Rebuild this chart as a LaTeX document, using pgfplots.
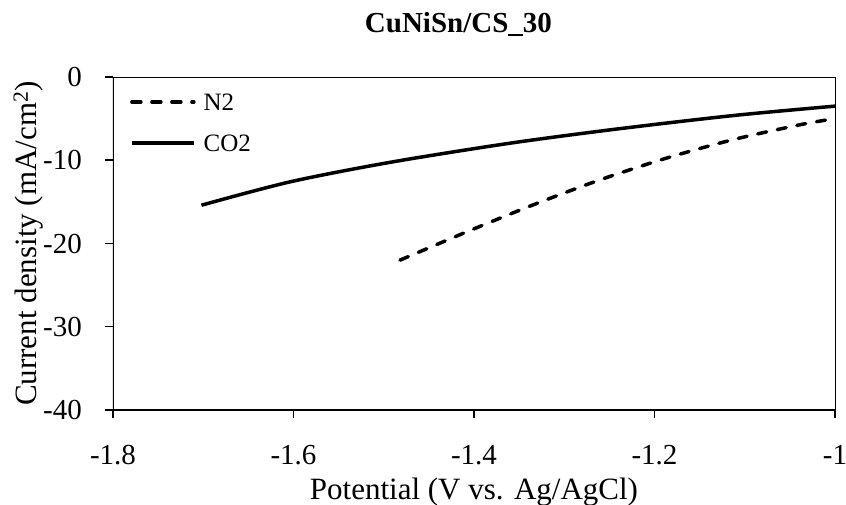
\documentclass[border=0pt]{standalone}
\usepackage{pgfplots}
\pgfplotsset{compat=1.18}
\usepackage{fontspec}
\setmainfont{Liberation Serif}
\begin{document}
\begin{tikzpicture}
\useasboundingbox (-113pt,-95pt) rectangle (733pt,410pt);
\begin{axis}[
  at={(0pt,0pt)}, anchor=south west,
  scale only axis, width=722pt, height=333pt,
  xmin=-1.8, xmax=-1, ymin=-40, ymax=0,
  enlargelimits=false,
  xtick={-1.8,-1.6,-1.4,-1.2,-1},
  xticklabels={-1.8,-1.6,-1.4,-1.2,-1},
  ytick={-40,-30,-20,-10,0},
  yticklabels={-40,-30,-20,-10,0},
  tick pos=left, tick align=outside,
  major tick length=8pt,
  every tick/.style={black, line width=1.5pt},
  axis line style={black, line width=0.9pt},
  tick label style={font=\fontsize{29}{34}\selectfont, inner sep=0pt},
  xticklabel style={anchor=base, yshift=-46.7pt},
  yticklabel style={anchor=east, xshift=-23pt},
  xlabel={Potential (V vs. Ag/AgCl)},
  ylabel={Current density (mA/cm\textsuperscript{2})},
  label style={font=\fontsize{31}{36}\selectfont, inner sep=0pt},
  xlabel style={at={(axis description cs:0.5,-0.2673)}, anchor=base},
  ylabel style={at={(axis description cs:-0.1053,0.5)}, anchor=base, rotate=0},
  title={CuNiSn/CS\_30},
  title style={at={(axis description cs:0.4785,1.116)}, anchor=base, font=\bfseries\fontsize{29}{34}\selectfont, inner sep=0pt},
  legend cell align=left,
  legend style={at={(axis description cs:0.0235,0.9505)}, anchor=north west,
    draw=none, fill=none, inner sep=0pt, row sep=24pt, column sep=8pt,
    font=\fontsize{25}{30}\selectfont,
    nodes={inner sep=0pt, text height=17pt, text depth=0pt}},
  legend image code/.code={\draw[#1] (0pt,0pt) -- (62pt,0pt);},
]
\addplot[black, line width=3.5pt, line cap=round, dash pattern=on 9pt off 11pt, smooth] coordinates {
(-1.482,-22.0) (-1.408,-18.6) (-1.334,-15.34) (-1.260,-12.34)
(-1.186,-9.72) (-1.112,-7.50) (-1.038,-5.72) (-1.000,-5.0)
};
\addlegendentry{N2}
\addplot[black, line width=3.5pt, smooth] coordinates {
(-1.702,-15.4) (-1.604,-12.6) (-1.493,-10.25) (-1.360,-7.95)
(-1.238,-6.2) (-1.110,-4.6) (-1.000,-3.5)
};
\addlegendentry{CO2}
\draw[black, line width=2.5pt] (rel axis cs:0,1) -- (rel axis cs:0,0) -- (rel axis cs:1,0);
\end{axis}
\end{tikzpicture}
\end{document}
